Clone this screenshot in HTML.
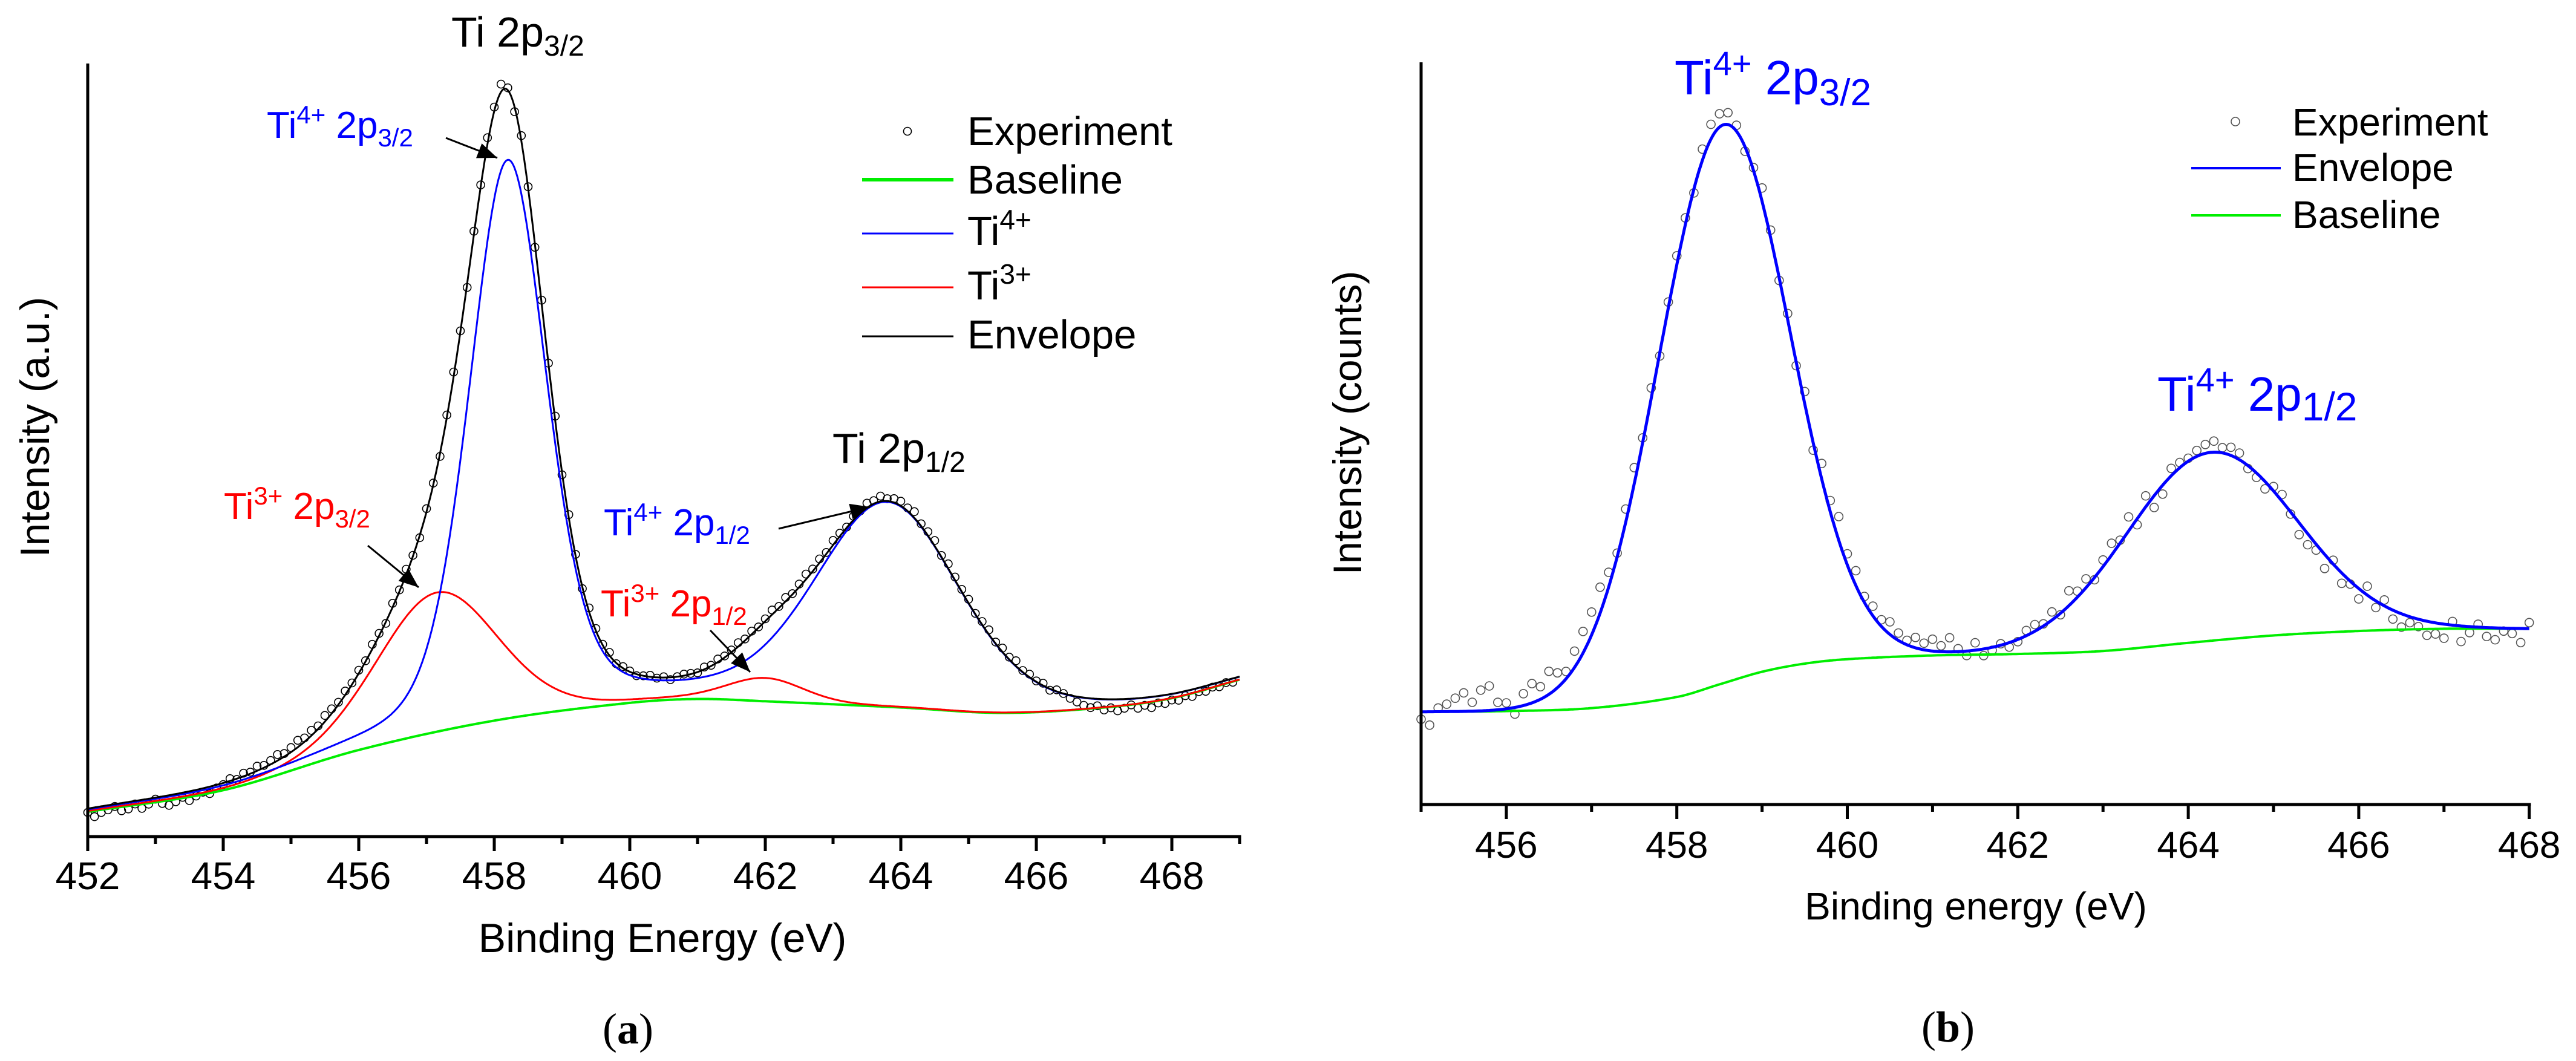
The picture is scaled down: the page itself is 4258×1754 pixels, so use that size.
<!DOCTYPE html>
<html><head><meta charset="utf-8">
<style>
html,body{margin:0;padding:0;background:#fff;}
svg{display:block;font-family:"Liberation Sans",Arial,sans-serif;}
</style></head>
<body>
<svg id="fig" width="4258" height="1754" viewBox="0 0 4258 1754" xmlns="http://www.w3.org/2000/svg">
<g id="pa"></g>
<g id="pb"></g>
</svg>
<script>
// ---------- Panel (a) data ----------
const baseAE = [452,454,456,458,460,461,462,464,465.5,467,468,469];
const baseAI = [3.2,6.0,11.2,15.0,17.3,17.8,17.5,16.7,16.0,16.7,17.9,20.3];
const ti4Centers = [458.2, 463.8];
const ti4Heights = [72, 26.2];
const ti4Fwhm = [1.35, 2.5];
const ti4Eta = [0.3, 0.2];
const ti3Centers = [457.15, 462.0];
const ti3Heights = [18.0, 2.9];
const ti3Fwhm = [2.1, 1.3];
const ti3Eta = [0.15, 0.1];
const expAStart = 452.0;
const expAStep = 0.1;
const expAOffsets = [
-0.5,-1.2,-0.8,-0.6,-0.3,-1.0,-0.9,-0.4,-1.1,-0.7,-0.2,-0.9,-1.3,-1.0,-0.6,-1.2,-0.8,-0.5,-0.9,-0.4,
-0.2,0.3,-0.1,0.4,0.2,0.6,0.3,0.5,0.8,0.4,0.6,0.9,0.5,0.7,0.4,0.8,0.6,0.3,0.5,0.2,
0.4,0.1,0.6,0.3,-0.2,0.5,0.2,0.7,0.1,-0.3,0.4,0.2,-0.4,0.3,0.6,0.1,-0.5,0.4,0.2,0.8,
0.5,1.0,0.3,-0.6,0.7,0.2,-0.4,0.5,0.1,0.6,-0.3,0.4,0.2,-0.2,0.5,0.3,0.1,0.4,-0.1,0.2,
0.1,-0.2,0.0,0.2,-0.1,0.1,-0.3,0.0,0.2,0.1,-0.1,0.3,0.1,0.4,0.2,0.3,0.5,0.2,0.4,0.1,
0.3,0.6,0.2,0.5,0.1,0.4,0.7,0.3,0.5,0.2,0.6,0.4,0.1,0.5,0.3,0.6,0.4,0.7,0.3,0.5,
0.6,0.4,0.8,0.3,0.5,0.7,0.2,0.6,0.4,0.3,0.5,0.1,0.4,0.6,0.2,0.5,0.3,0.7,0.2,0.4,
0.1,0.3,-0.2,0.2,0.0,-0.4,-0.7,-1.0,-1.2,-0.9,-1.4,-1.1,-1.5,-1.2,-0.8,-1.3,-1.0,-1.4,-0.9,-1.1,
-0.8,-1.0,-0.6,-0.9,-0.5,-0.7,-0.4,-0.6,-0.3,-0.5];
const ticksA = [452,454,456,458,460,462,464,466,468];

// ---------- Panel (b) data ----------
const baseBE = [455,456,457,458,458.5,459,459.5,460,461,462,463,464,465,466,467,468];
const baseBI = [12.5,12.6,13.0,14.5,16.2,17.9,19.0,19.6,20.1,20.3,20.7,21.8,22.8,23.4,23.7,23.7];
const peakBCenters = [458.55, 464.27];
const peakBHeights = [75.3, 25.4];
const peakBFwhm = [1.81, 2.36];
const expBStart = 455.0;
const expBStep = 0.1;
const expBOffsets = [
-1.0,-1.8,0.5,1.0,1.8,2.5,1.2,2.8,3.3,1.0,
0.8,-0.9,1.6,2.6,1.7,3.1,2.0,1.0,2.2,2.9,
3.1,3.5,2.0,0.5,1.8,2.2,0.6,1.4,-0.4,0.8,
1.2,0.9,-0.5,1.5,2.0,1.8,1.6,0.8,-0.6,0.4,
1.8,1.0,-0.4,0.8,-0.5,1.6,-1.0,2.1,1.5,3.2,
1.5,2.0,0.8,1.3,0.9,1.7,1.0,0.6,1.4,0.9,
1.6,0.8,1.9,0.4,-0.6,1.0,-0.9,-0.4,0.2,-0.6,
-0.3,0.7,0.9,0.3,1.1,-0.2,2.0,0.8,1.2,-0.3,
0.9,1.6,0.4,1.9,-0.8,1.5,-1.6,-1.2,1.0,0.7,
0.4,0.8,1.2,1.5,0.7,1.1,0.9,-0.4,-0.6,-1.0,
0.6,0.9,-0.3,-1.6,-1.5,-0.8,-1.9,0.5,-1.4,-0.4,
-1.4,1.2,-0.9,0.8,-1.2,-1.8,-0.8,-1.0,-1.9,-1.5,
-1.9,0.5,-2.1,-0.8,0.4,-1.2,-1.6,-0.4,-0.7,-1.9,
0.8];
const ticksB = [456,458,460,462,464,466,468];

const NS = "http://www.w3.org/2000/svg";
function mk(parent, tag, attrs){
  const e = document.createElementNS(NS, tag);
  for (const k in attrs) e.setAttribute(k, attrs[k]);
  parent.appendChild(e);
  return e;
}
function interp(xs, ys, x){
  const n=xs.length;
  if (x <= xs[0]) return ys[0];
  if (x >= xs[n-1]) return ys[n-1];
  let i=1; while(x>xs[i]) i++;
  const x0=xs[i-1], x1=xs[i], y0=ys[i-1], y1=ys[i];
  const h=x1-x0;
  const slope=(a)=>{
    if(a===0) return (ys[1]-ys[0])/(xs[1]-xs[0]);
    if(a===n-1) return (ys[n-1]-ys[n-2])/(xs[n-1]-xs[n-2]);
    return (ys[a+1]-ys[a-1])/(xs[a+1]-xs[a-1]);
  };
  const m0=slope(i-1)*h, m1=slope(i)*h;
  const t=(x-x0)/h, t2=t*t, t3=t2*t;
  return (2*t3-3*t2+1)*y0+(t3-2*t2+t)*m0+(-2*t3+3*t2)*y1+(t3-t2)*m1;
}
function pv(E,c,h,w,eta){
  const d=(E-c)/w;
  return h*((1-eta)*Math.exp(-4*Math.LN2*d*d)+eta/(1+4*d*d));
}
function sumPeaks(E,cs,hs,ws,etas){
  let s=0; for(let i=0;i<cs.length;i++) s+=pv(E,cs[i],hs[i],ws[i],etas?etas[i]:0); return s;
}

(function(){
  const g=document.getElementById('pa');
  const X0=145, XPU=112, Y0=1383, YPU=12.78, EMIN=452, EMAX=469;
  const xs=E=>X0+(E-EMIN)*XPU;
  const ys=I=>Y0-I*YPU;
  const base=E=>interp(baseAE,baseAI,E);
  const t4=E=>sumPeaks(E,ti4Centers,ti4Heights,ti4Fwhm,ti4Eta);
  const t3=E=>sumPeaks(E,ti3Centers,ti3Heights,ti3Fwhm,ti3Eta);
  function curve(fn,color,w,name){
    let d="";
    for(let E=EMIN;E<=EMAX+1e-9;E+=0.02){ d+=(d?"L":"M")+xs(E).toFixed(1)+","+ys(fn(E)).toFixed(1); }
    const p=mk(g,'path',{d:d,fill:'none',stroke:color,'stroke-width':w,'stroke-linejoin':'round'});
    
    
  }
  const pts=mk(g,'g',{fill:'none',stroke:'#000','stroke-width':1.6});
  
  
  for(let i=0;i<expAOffsets.length;i++){
    const E=expAStart+i*expAStep;
    const I=base(E)+t4(E)+t3(E)+expAOffsets[i];
    const c=mk(pts,'circle',{cx:xs(E).toFixed(1),cy:ys(I).toFixed(1),r:6.5});
    
    
  }
  curve(base,'#00ee00',4,'baseline-curve-a');
  curve(E=>base(E)+t3(E),'#ff0000',3,'ti3-curve');
  curve(E=>base(E)+t4(E),'#0000ff',3,'ti4-curve');
  curve(E=>base(E)+t4(E)+t3(E),'#000000',3,'envelope-curve-a');
})();

(function(){
  const g=document.getElementById('pb');
  const X0=2349, XPU=140.9, Y0=1330, YPU=12.26, EMIN=455, EMAX=468;
  const xs=E=>X0+(E-EMIN)*XPU;
  const ys=I=>Y0-I*YPU;
  const base=E=>interp(baseBE,baseBI,E);
  const pk=E=>sumPeaks(E,peakBCenters,peakBHeights,peakBFwhm,null);
  const pts=mk(g,'g',{fill:'none',stroke:'#555','stroke-width':1.6});
  
  
  for(let i=0;i<expBOffsets.length;i++){
    const E=expBStart+i*expBStep;
    const I=base(E)+pk(E)+expBOffsets[i];
    const c=mk(pts,'circle',{cx:xs(E).toFixed(1),cy:ys(I).toFixed(1),r:7});
    
    
  }
  function curve(fn,color,w,name){
    let d="";
    for(let E=EMIN;E<=EMAX+1e-9;E+=0.02){ d+=(d?"L":"M")+xs(E).toFixed(1)+","+ys(fn(E)).toFixed(1); }
    const p=mk(g,'path',{d:d,fill:'none',stroke:color,'stroke-width':w,'stroke-linejoin':'round'});
    
    
  }
  curve(base,'#00ee00',4,'baseline-curve-b');
  curve(E=>base(E)+pk(E),'#0000ff',5,'envelope-curve-b');
})();

function axes(gid, X0, XEND, Y0, YTOP, XPU, EMIN, EMAX, ticks, labelBase, prefix, fs){
  const g=document.getElementById(gid);
  const ax=mk(g,'g',{});
  
  
  mk(ax,'line',{x1:X0,y1:YTOP,x2:X0,y2:Y0+2.5,stroke:'#000','stroke-width':5});
  mk(ax,'line',{x1:X0-2.5,y1:Y0,x2:XEND+2.5,y2:Y0,stroke:'#000','stroke-width':5});
  for(let E=Math.ceil(EMIN);E<=EMAX+1e-9;E+=1){
    const x=X0+(E-EMIN)*XPU;
    const major=ticks.indexOf(E)>=0;
    mk(ax,'line',{x1:x,y1:Y0,x2:x,y2:Y0+(major?24:12),stroke:'#000','stroke-width':5});
  }
  for(let i=0;i<ticks.length;i++){
    const x=X0+(ticks[i]-EMIN)*XPU;
    const t=mk(ax,'text',{x:x,y:labelBase,'font-size':fs,'text-anchor':'middle',fill:'#000'});
    t.textContent=ticks[i];
    
    
  }
}
axes('pa',145,2049,1383,105,112,452,469,ticksA,1470,'panel-a',64);
axes('pb',2349,4181,1330,103,140.9,455,468,ticksB,1418,'panel-b',62);
</script>

<svg width="4258" height="1754" viewBox="0 0 4258 1754" style="position:absolute;left:0;top:0" xmlns="http://www.w3.org/2000/svg" font-family="Liberation Sans, Arial, sans-serif">
<defs>
<marker id="ahb" viewBox="0 0 10 8" refX="10" refY="4" markerWidth="34" markerHeight="26" orient="auto" markerUnits="userSpaceOnUse"><path d="M0,0 L10,4 L0,8 Z" fill="#000"/></marker>
</defs>
<text x="58" y="706" font-size="68" text-anchor="middle" transform="rotate(-90 58 706)" dy="23">Intensity (a.u.)</text>
<text x="1095" y="1574" font-size="68" text-anchor="middle">Binding Energy (eV)</text>
<text x="1038" y="1725" font-size="72" text-anchor="middle" font-family="Liberation Serif, serif">(<tspan font-weight="bold">a</tspan>)</text>

<text x="746" y="77" font-size="70">Ti 2p<tspan font-size="48" dy="15">3/2</tspan></text>
<text x="1376" y="765" font-size="70">Ti 2p<tspan font-size="48" dy="15">1/2</tspan></text>

<text x="441" y="228" font-size="62" fill="#0000ff">Ti<tspan font-size="42" dy="-24">4+</tspan><tspan dy="24"> 2p</tspan><tspan font-size="42" dy="14">3/2</tspan></text>
<line x1="737" y1="228" x2="822" y2="261" stroke="#000" stroke-width="3" marker-end="url(#ahb)"/>

<text x="998" y="885" font-size="62" fill="#0000ff">Ti<tspan font-size="42" dy="-24">4+</tspan><tspan dy="24"> 2p</tspan><tspan font-size="42" dy="14">1/2</tspan></text>
<line x1="1287" y1="874" x2="1438" y2="838" stroke="#000" stroke-width="3" marker-end="url(#ahb)"/>

<text x="370" y="858" font-size="62" fill="#ff0000">Ti<tspan font-size="42" dy="-24">3+</tspan><tspan dy="24"> 2p</tspan><tspan font-size="42" dy="14">3/2</tspan></text>
<line x1="608" y1="902" x2="692" y2="971" stroke="#000" stroke-width="3" marker-end="url(#ahb)"/>

<text x="993" y="1019" font-size="62" fill="#ff0000">Ti<tspan font-size="42" dy="-24">3+</tspan><tspan dy="24"> 2p</tspan><tspan font-size="42" dy="14">1/2</tspan></text>
<line x1="1174" y1="1042" x2="1240" y2="1111" stroke="#000" stroke-width="3" marker-end="url(#ahb)"/>

<g>
<circle cx="1500" cy="217" r="6.5" fill="none" stroke="#000" stroke-width="1.6"/>
<text x="1599" y="240" font-size="67">Experiment</text>
<line x1="1425" y1="297" x2="1576" y2="297" stroke="#00ee00" stroke-width="6"/>
<text x="1599" y="320" font-size="67">Baseline</text>
<line x1="1425" y1="386" x2="1576" y2="386" stroke="#0000ff" stroke-width="3"/>
<text x="1599" y="405" font-size="67">Ti<tspan font-size="46" dy="-26">4+</tspan></text>
<line x1="1425" y1="475" x2="1576" y2="475" stroke="#ff0000" stroke-width="3"/>
<text x="1599" y="495" font-size="67">Ti<tspan font-size="46" dy="-26">3+</tspan></text>
<line x1="1425" y1="556" x2="1576" y2="556" stroke="#000" stroke-width="3"/>
<text x="1599" y="576" font-size="67">Envelope</text>
</g>

<text x="2227" y="699" font-size="66" text-anchor="middle" transform="rotate(-90 2227 699)" dy="23">Intensity (counts)</text>
<text x="3266" y="1520" font-size="64" text-anchor="middle">Binding energy (eV)</text>
<text x="3220" y="1722" font-size="72" text-anchor="middle" font-family="Liberation Serif, serif">(<tspan font-weight="bold">b</tspan>)</text>

<text x="2768" y="156" font-size="80" fill="#0000ff">Ti<tspan font-size="56" dy="-32">4+</tspan><tspan dy="32"> 2p</tspan><tspan font-size="62" dy="18">3/2</tspan></text>
<text x="3566" y="679" font-size="80" fill="#0000ff">Ti<tspan font-size="56" dy="-32">4+</tspan><tspan dy="32"> 2p</tspan><tspan font-size="66" dy="16">1/2</tspan></text>

<g>
<circle cx="3695" cy="201" r="7" fill="none" stroke="#555" stroke-width="1.6"/>
<text x="3789" y="224" font-size="64">Experiment</text>
<line x1="3622" y1="278" x2="3770" y2="278" stroke="#0000ff" stroke-width="4"/>
<text x="3789" y="299" font-size="64">Envelope</text>
<line x1="3622" y1="356" x2="3770" y2="356" stroke="#00ee00" stroke-width="4"/>
<text x="3789" y="377" font-size="64">Baseline</text>
</g>
</svg>
</body></html>
